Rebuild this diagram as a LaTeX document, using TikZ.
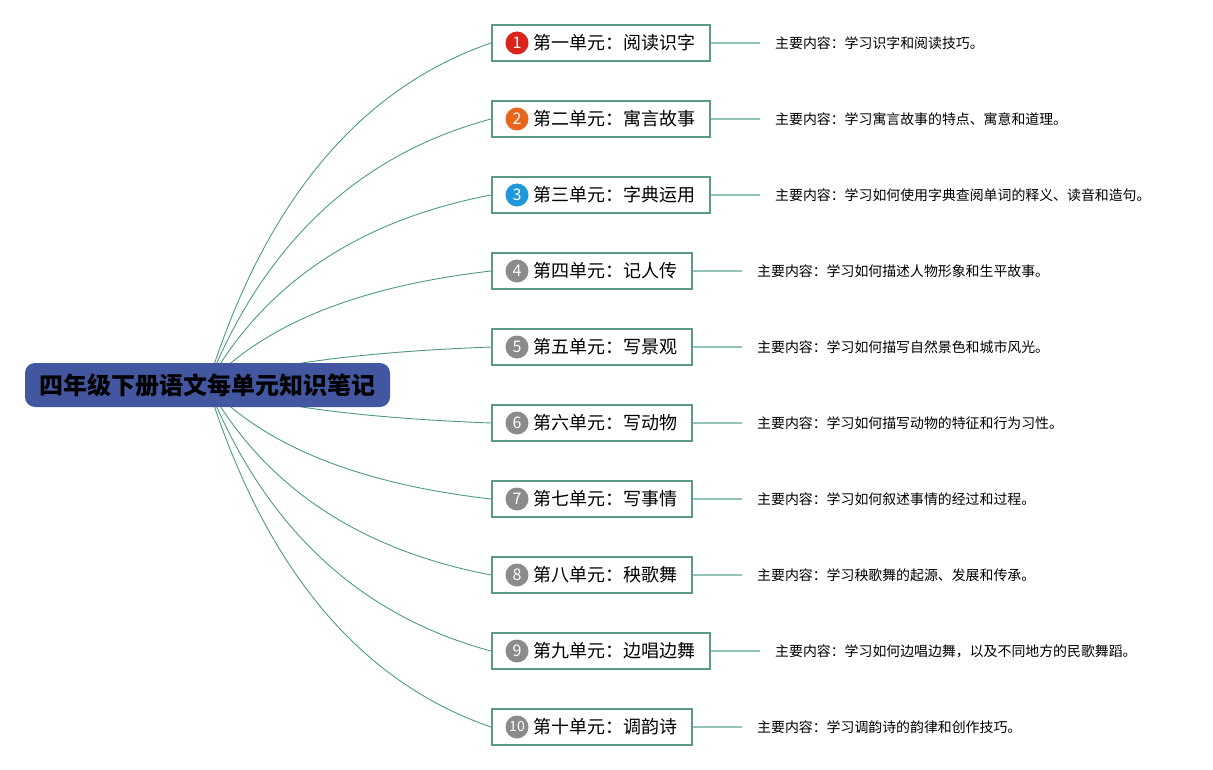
\documentclass[tikz,border=0pt]{standalone}
\usepackage{fontspec}
\setmainfont{Noto Sans CJK SC}
\usetikzlibrary{calc,backgrounds}
\definecolor{rootblue}{HTML}{4357A1}
\definecolor{boxteal}{HTML}{5A9A87}
\definecolor{curveteal}{HTML}{4E9A80}
\definecolor{leafteal}{HTML}{92C4B5}
\definecolor{nred}{HTML}{D9251C}
\definecolor{norange}{HTML}{E8661B}
\definecolor{nblue}{HTML}{1F97DA}
\definecolor{ngray}{HTML}{8B8B8B}
\tikzset{
 rootbox/.style={draw=none, fill=rootblue, rounded corners=10pt, minimum width=365pt, minimum height=44pt, inner sep=0pt, font=\fontsize{24}{24}\selectfont\bfseries, text=black},
 unitbox/.style={draw=boxteal, line width=2pt, fill=white, minimum height=36pt, inner xsep=15pt, inner ysep=0pt, anchor=west, font=\fontsize{18}{18}\selectfont},
 numdot/.style={circle, fill=#1, text=white, minimum size=23pt, inner sep=0pt, font=\fontsize{16}{16}\selectfont},
 desc/.style={anchor=west, inner sep=0pt, font=\fontsize{13.9}{13.9}\selectfont},
 branch/.style={draw=curveteal, line width=0.9pt},
 leafline/.style={draw=leafteal, line width=2pt, shorten >=15pt},
}
\begin{document}
\begin{tikzpicture}[x=1pt,y=-1pt]
\useasboundingbox (0,0) rectangle (1213,770);
\node[rootbox] (root) at (207.5,385) {四年级下册语文每单元知识笔记};
\foreach \i/\y/\c/\n/\t/\d in {
 1/43/nred/1/第一单元：阅读识字/主要内容：学习识字和阅读技巧。,
 2/119/norange/2/第二单元：寓言故事/主要内容：学习寓言故事的特点、寓意和道理。,
 3/195/nblue/3/第三单元：字典运用/主要内容：学习如何使用字典查阅单词的释义、读音和造句。,
 4/271/ngray/4/第四单元：记人传/主要内容：学习如何描述人物形象和生平故事。,
 5/347/ngray/5/第五单元：写景观/主要内容：学习如何描写自然景色和城市风光。,
 6/423/ngray/6/第六单元：写动物/主要内容：学习如何描写动物的特征和行为习性。,
 7/499/ngray/7/第七单元：写事情/主要内容：学习如何叙述事情的经过和过程。,
 8/575/ngray/8/第八单元：秧歌舞/主要内容：学习秧歌舞的起源、发展和传承。,
 9/651/ngray/9/第九单元：边唱边舞/主要内容：学习如何边唱边舞，以及不同地方的民歌舞蹈。,
 10/727/ngray/10/第十单元：调韵诗/主要内容：学习调韵诗的韵律和创作技巧。}{
 \node[unitbox] (u\i) at (491,\y) {\hspace*{26pt}\t};
 \node[numdot=\c] (n\i) at ([xshift=26pt]u\i.west) {\ifnum\n>9\fontsize{14}{14}\selectfont\fi\n};
 \node[desc] (d\i) at ([xshift=64pt]u\i.east) {\d};
 \draw[leafline] (u\i) -- (d\i);
 \path ($(root.center)!0.3!(u\i.west)$) coordinate (qa\i)
       ($(root.center)!0.8!(u\i.west)$) coordinate (qb\i);
 \coordinate (q\i) at (qa\i |- qb\i);
 \begin{scope}[on background layer]
 \draw[branch] (root.center) .. controls ($(root.center)!2/3!(q\i)$) and ($(u\i.west)!2/3!(q\i)$) .. (u\i.west);
 \end{scope}
}
\end{tikzpicture}
\end{document}
